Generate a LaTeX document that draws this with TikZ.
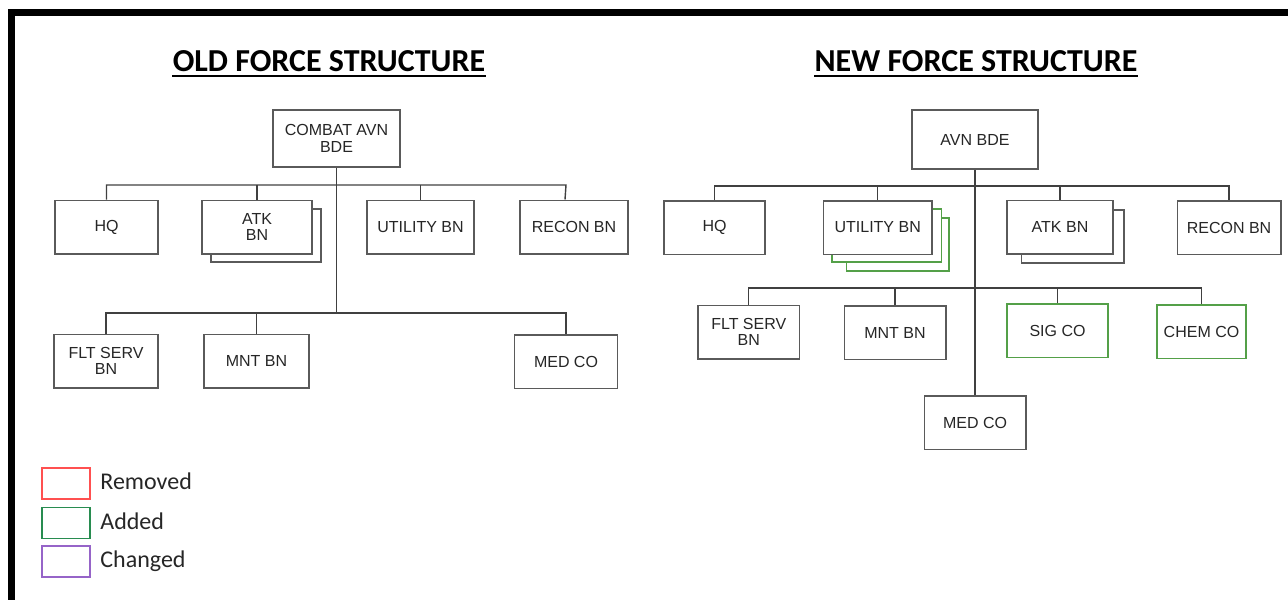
\documentclass[tikz,border=0pt]{standalone}
\usepackage{fontspec}
\setmainfont{Carlito}
\newfontfamily\boxfont{Liberation Sans}

\definecolor{linegray}{RGB}{64,64,64}
\definecolor{boxgray}{RGB}{90,90,90}
\definecolor{txtgray}{RGB}{38,38,38}
\definecolor{addgreen}{RGB}{84,160,72}
\definecolor{keyred}{RGB}{255,80,80}
\definecolor{keygreen}{RGB}{40,140,80}
\definecolor{keypurple}{RGB}{150,100,200}

\tikzset{
  unit/.style={draw=boxgray, fill=white, line width=0.75pt, minimum width=52pt,
    minimum height=26.75pt, align=center, inner sep=1pt, text=txtgray,
    font=\boxfont\fontsize{8}{8.4}\selectfont},
  added/.style={unit, draw=addgreen},
  behind/.style={draw=boxgray, fill=white, line width=0.75pt},
  conn/.style={draw=linegray, line width=0.7pt},
  title/.style={inner sep=0pt, anchor=base, font=\bfseries\fontsize{16}{16}\selectfont},
  key/.style={line width=0.9pt, minimum width=24pt, minimum height=15.5pt},
  keytext/.style={anchor=base west, inner sep=0pt, text=txtgray, font=\fontsize{12}{12}\selectfont}
}

\begin{document}
\begin{tikzpicture}[x=0.5pt, y=-0.5pt]
\useasboundingbox (0,0) rectangle (1288,599);
% frame
\draw[line width=3.3pt] (11.5,610) -- (11.5,12.5) -- (1300,12.5);
%
% old force structure
\node[title] (otitle) at (329,72) {OLD FORCE STRUCTURE};
\draw[line width=1.3pt] ([yshift=-2pt]otitle.base west) -- ([yshift=-2pt]otitle.base east);
\node[unit, minimum width=63.5pt, minimum height=28.5pt] (cbde) at (336.5,138.5) {COMBAT AVN\\BDE};
\node[unit, minimum width=51.5pt] (ohq) at (106.5,227) {HQ};
\draw[behind] (211,209) rectangle (321,262);
\node[unit, minimum width=55pt] (oatk) at (257,227) {ATK\\BN};
\node[unit, minimum width=53.5pt] (outil) at (420.5,227) {UTILITY BN};
\node[unit, minimum width=54pt] (orecon) at (574,227) {RECON BN};
\node[unit] (oflt) at (106,361) {FLT SERV\\BN};
\node[unit, minimum width=52.5pt] (omnt) at (256.5,361) {MNT BN};
\node[unit, minimum width=51.5pt] (omed) at (566,361.5) {MED CO};
%
\coordinate (obus1) at (0,185);
\coordinate (obus2) at (0,313);
\draw[conn] (cbde.south) -- (cbde.south |- obus2);
\draw[conn] (ohq.north) -- (ohq.north |- obus1) -- (omed.north |- obus1) -- ([xshift=-4.5pt]orecon.north);
\foreach \n in {oatk,outil} \draw[conn] (\n.north) -- (\n.north |- obus1);
\draw[conn] (oflt.north) -- (oflt.north |- obus2) -- (omed.north |- obus2) -- (omed.north);
\draw[conn] (omnt.north) -- (omnt.north |- obus2);
%
% new force structure
\node[title] (ntitle) at (976,72) {NEW FORCE STRUCTURE};
\draw[line width=1.3pt] ([yshift=-2pt]ntitle.base west) -- ([yshift=-2pt]ntitle.base east);
\node[unit, minimum width=63pt, minimum height=29.5pt] (abde) at (975,139.5) {AVN BDE};
\node[unit, minimum width=50.5pt] (nhq) at (714.5,227.5) {HQ};
\draw[behind, draw=addgreen] (846.5,218) rectangle (949,271);
\draw[behind, draw=addgreen] (832,209) rectangle (941.5,262);
\node[unit, minimum width=54.25pt] (nutil) at (877.7,227.5) {UTILITY BN};
\draw[behind] (1021.5,210) rectangle (1124,263);
\node[unit, minimum width=53pt] (natk) at (1060,227) {ATK BN};
\node[unit, minimum width=51.75pt] (nrecon) at (1229,227.5) {RECON BN};
\node[unit, minimum width=50.75pt] (nflt) at (748.75,332) {FLT SERV\\BN};
\node[unit, minimum width=50.75pt] (nmnt) at (895,332.5) {MNT BN};
\node[added, minimum width=50.5pt] (nsig) at (1057.5,330.5) {SIG CO};
\node[added, minimum width=44.5pt] (nchem) at (1201.5,331.5) {CHEM CO};
\node[unit, minimum width=50.75pt] (nmed) at (975,422.5) {MED CO};
%
\coordinate (nbus1) at (0,186);
\coordinate (nbus2) at (0,288);
\draw[conn] (abde.south) -- (nmed.north);
\draw[conn] (nhq.north) -- (nhq.north |- nbus1) -- (nrecon.north |- nbus1) -- (nrecon.north);
\foreach \n in {nutil,natk} \draw[conn] (\n.north) -- (\n.north |- nbus1);
\draw[conn] (nflt.north) -- (nflt.north |- nbus2) -- (nchem.north |- nbus2) -- (nchem.north);
\foreach \n in {nmnt,nsig} \draw[conn] (\n.north) -- (\n.north |- nbus2);
%
% legend
\node[key, draw=keyred] (kremoved) at (66,483.5) {};
\node[key, draw=keygreen] (kadded) at (66,523) {};
\node[key, draw=keypurple] (kchanged) at (66,561.5) {};
\node[keytext] (tremoved) at (100,489) {Removed};
\node[keytext] (tadded) at (100,529.5) {Added};
\node[keytext] (tchanged) at (100,567) {Changed};
\end{tikzpicture}
\end{document}
